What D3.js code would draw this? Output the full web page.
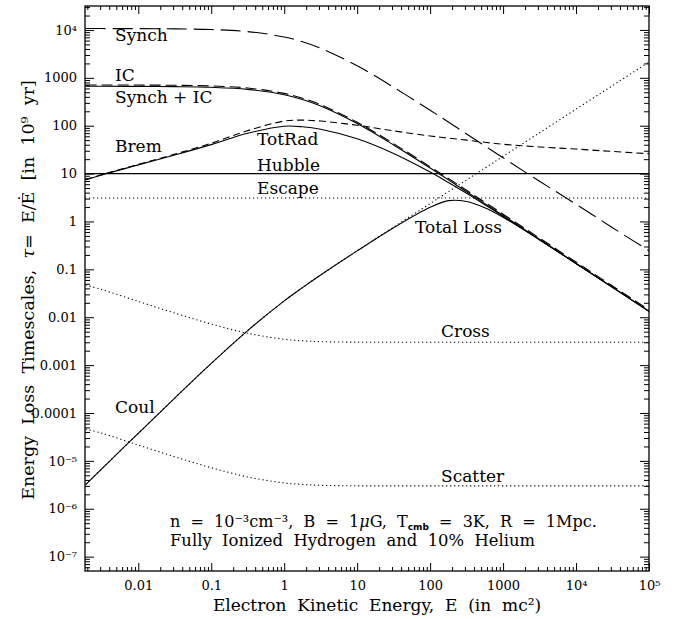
<!DOCTYPE html>
<html>
<head>
<meta charset="utf-8">
<script src="https://cdn.jsdelivr.net/npm/d3@7"></script>
<style>
  body { margin: 0; background: #fff; }
  svg text { font-family: "DejaVu Serif", serif; fill: #000; }
</style>
</head>
<body>
<script>
/* Electron kinetic energy (in mc^2) at which each curve is read */
var energy = [0.0019, 0.00316, 0.01, 0.0316, 0.1, 0.316, 1, 1.78, 3.16, 10,
              31.6, 100, 178, 316, 562, 1000, 3162, 1e4, 31623, 1e5];

/* Loss timescales, in 10^9 yr */
var synch   = [10690, 10680, 10650, 10530, 10190, 9240, 7130, 5660, 4140, 1780,
               634, 210, 119, 67.3, 37.9, 21.4, 6.9, 2.3, 0.74, 0.245];
var ic      = [709, 709, 706, 699, 676, 613, 473, 376, 275, 118,
               42.2, 13.9, 7.89, 4.47, 2.52, 1.42, 0.449, 0.142, 0.0449, 0.0142];
var synchIC = [665, 665, 662, 655, 634, 575, 444, 352, 258, 111,
               39.6, 13.05, 7.40, 4.19, 2.36, 1.33, 0.421, 0.133, 0.0421, 0.0133];
var brem    = [7.5, 9.5, 15.5, 25.5, 43, 79, 125, 131, 125, 102,
               78, 61, 55, 50, 45, 41, 36, 32.5, 29, 26];
var totRad  = [7.42, 9.37, 15.2, 24.5, 40.3, 69.5, 97.5, 95.0, 84.2, 53.2,
               26.3, 10.75, 6.52, 3.87, 2.24, 1.29, 0.416, 0.1325, 0.042, 0.0133];
var coul    = [3.2e-6, 6.83e-6, 3.77e-5, 2.05e-4, 1.086e-3, 5.27e-3, 0.0219, 0.0416, 0.0764, 0.244,
               0.762, 2.37, 4.19, 7.37, 13.0, 22.95, 71.3, 222, 689, 2140];
var total   = [3.2e-6, 6.83e-6, 3.77e-5, 2.05e-4, 1.086e-3, 5.27e-3, 0.0219, 0.0416, 0.0763, 0.243,
               0.741, 1.98, 2.72, 2.62, 1.93, 1.22, 0.414, 0.132, 0.042, 0.0133];
var cross   = [0.047, 0.0378, 0.0214, 0.0122, 0.0072, 0.00462, 0.00346, 0.00322, 0.00309, 0.00301,
               0.003, 0.003, 0.003, 0.003, 0.003, 0.003, 0.003, 0.003, 0.003, 0.003];
var scatter = [4.6e-5, 3.78e-5, 2.14e-5, 1.22e-5, 7.2e-6, 4.62e-6, 3.46e-6, 3.22e-6, 3.09e-6, 3.01e-6,
               3e-6, 3e-6, 3e-6, 3e-6, 3e-6, 3e-6, 3e-6, 3e-6, 3e-6, 3e-6];
var hubble = 10;
var escape = 3.1;

/* Axis ticks */
var xTickValues = [0.01, 0.1, 1, 10, 100, 1000, 1e4, 1e5];
var xTickLabels = ["0.01", "0.1", "1", "10", "100", "1000", "10\u2074", "10\u2075"];
var yTickValues = [1e4, 1000, 100, 10, 1, 0.1, 0.01, 0.001, 1e-4, 1e-5, 1e-6, 1e-7];
var yTickLabels = ["10\u2074", "1000", "100", "10", "1", "0.1", "0.01", "0.001", "0.0001",
                   "10\u207b\u2075", "10\u207b\u2076", "10\u207b\u2077"];

var margin = {left: 85, top: 6},
    width = 564, height = 565;

var svg = d3.select("body").append("svg")
    .attr("width", 690)
    .attr("height", 619);

var g = svg.append("g")
    .attr("transform", "translate(" + margin.left + "," + margin.top + ")");

var x = d3.scaleLog().domain([0.00186, 1e5]).range([0, width]);
var y = d3.scaleLog().domain([Math.pow(10, -7.3), Math.pow(10, 4.5)]).range([height, 0]);

/* minor ticks at 2..9 of each decade */
function minorTicks(scale) {
  var dom = scale.domain(), lo = Math.min(dom[0], dom[1]), hi = Math.max(dom[0], dom[1]);
  var t = [];
  for (var k = Math.floor(Math.log10(lo)); k <= Math.ceil(Math.log10(hi)); k++)
    for (var m = 2; m <= 9; m++) {
      var v = m * Math.pow(10, k);
      if (v >= lo && v <= hi) t.push(v);
    }
  return t;
}

function styleAxis(sel) {
  sel.select(".domain").remove();
  sel.attr("font-family", null).attr("font-size", 13);
  sel.selectAll("line").attr("stroke-width", 1);
}

var MAJ = 8, MIN = 4;

/* bottom + top */
g.append("g").attr("transform", "translate(0," + height + ")")
    .call(d3.axisBottom(x).tickValues(xTickValues)
      .tickFormat(function(d, i) { return xTickLabels[i]; })
      .tickSizeInner(-MAJ).tickSizeOuter(0).tickPadding(10))
    .call(styleAxis);
g.append("g").attr("transform", "translate(0," + height + ")")
    .call(d3.axisBottom(x).tickValues(minorTicks(x)).tickFormat("")
      .tickSizeInner(-MIN).tickSizeOuter(0))
    .call(styleAxis);
g.append("g")
    .call(d3.axisTop(x).tickValues(xTickValues).tickFormat("")
      .tickSizeInner(-MAJ).tickSizeOuter(0))
    .call(styleAxis);
g.append("g")
    .call(d3.axisTop(x).tickValues(minorTicks(x)).tickFormat("")
      .tickSizeInner(-MIN).tickSizeOuter(0))
    .call(styleAxis);

/* left + right */
g.append("g")
    .call(d3.axisLeft(y).tickValues(yTickValues)
      .tickFormat(function(d, i) { return yTickLabels[i]; })
      .tickSizeInner(-MAJ - 1).tickSizeOuter(0).tickPadding(8))
    .call(styleAxis);
g.append("g")
    .call(d3.axisLeft(y).tickValues(minorTicks(y)).tickFormat("")
      .tickSizeInner(-MIN - 1).tickSizeOuter(0))
    .call(styleAxis);
g.append("g").attr("transform", "translate(" + width + ",0)")
    .call(d3.axisRight(y).tickValues(yTickValues).tickFormat("")
      .tickSizeInner(-MAJ - 1).tickSizeOuter(0))
    .call(styleAxis);
g.append("g").attr("transform", "translate(" + width + ",0)")
    .call(d3.axisRight(y).tickValues(minorTicks(y)).tickFormat("")
      .tickSizeInner(-MIN - 1).tickSizeOuter(0))
    .call(styleAxis);

g.append("rect")
    .attr("width", width).attr("height", height)
    .attr("fill", "none").attr("stroke", "#000").attr("stroke-width", 1.3);

/* curves */
g.append("clipPath").attr("id", "clip")
  .append("rect").attr("width", width).attr("height", height);

var line = d3.line()
    .x(function(d, i) { return x(energy[i]); })
    .y(function(d) { return y(d); })
    .curve(d3.curveCatmullRom);

var DOT = "1.2,2.8";
var curves = [
  {v: coul,    dash: DOT},
  {v: cross,   dash: DOT},
  {v: scatter, dash: DOT},
  {v: synch,   dash: "20,7"},
  {v: ic,      dash: "11,5"},
  {v: brem,    dash: "7,4"},
  {v: synchIC, dash: null},
  {v: totRad,  dash: null},
  {v: total,   dash: null}
];

var plot = g.append("g").attr("clip-path", "url(#clip)");

plot.selectAll(".curve")
    .data(curves)
  .enter().append("path")
    .attr("class", "curve")
    .attr("d", function(d) { return line(d.v); })
    .attr("fill", "none")
    .attr("stroke", "#000")
    .attr("stroke-width", 1.1)
    .attr("stroke-dasharray", function(d) { return d.dash; });

plot.selectAll(".hline")
    .data([{v: hubble, dash: null}, {v: escape, dash: DOT}])
  .enter().append("line")
    .attr("class", "hline")
    .attr("x1", 0).attr("x2", width)
    .attr("y1", function(d) { return y(d.v); })
    .attr("y2", function(d) { return y(d.v); })
    .attr("stroke", "#000")
    .attr("stroke-width", 1.1)
    .attr("stroke-dasharray", function(d) { return d.dash; });

/* curve labels */
var labels = [
  ["Synch", 115, 41], ["IC", 115, 81], ["Synch + IC", 115, 103],
  ["Brem", 115, 152], ["TotRad", 257, 145], ["Hubble", 257, 171],
  ["Escape", 257, 194], ["Total Loss", 415, 233], ["Cross", 441, 337],
  ["Scatter", 441, 482], ["Coul", 115, 413]
];
svg.selectAll(".lab")
    .data(labels)
  .enter().append("text")
    .attr("class", "lab")
    .attr("x", function(d) { return d[1]; })
    .attr("y", function(d) { return d[2]; })
    .attr("font-size", 17)
    .style("white-space", "pre")
    .text(function(d) { return d[0]; });

/* parameter note */
var note1 = svg.append("text")
    .attr("x", 170).attr("y", 527)
    .attr("font-size", 16)
    .style("white-space", "pre");
note1.append("tspan").text("n  =  10\u207b\u00b3cm\u207b\u00b3,  B  =  1");
note1.append("tspan").attr("font-style", "italic").text("\u03bc");
note1.append("tspan").text("G,  T");
note1.append("tspan").attr("font-family", "DejaVu Sans").attr("font-weight", "bold")
    .attr("font-size", 9).attr("dy", 3).text("cmb");
note1.append("tspan").attr("dy", -3).text("  =  3K,  R  =  1Mpc.");

svg.append("text")
    .attr("x", 170).attr("y", 546)
    .attr("font-size", 16.4)
    .style("white-space", "pre")
    .text("Fully  Ionized  Hydrogen  and  10%  Helium");

/* axis titles */
svg.append("text")
    .attr("x", 377).attr("y", 611)
    .attr("text-anchor", "middle")
    .attr("font-size", 17)
    .style("white-space", "pre")
    .text("Electron  Kinetic  Energy,  E  (in  mc\u00b2)");

var yt = svg.append("text")
    .attr("transform", "translate(34,290) rotate(-90)")
    .attr("text-anchor", "middle")
    .attr("font-size", 17.5)
    .style("white-space", "pre");
yt.append("tspan").text("Energy  Loss  Timescales,  ");
yt.append("tspan").attr("font-style", "italic").text("\u03c4");
yt.append("tspan").text("=  E/\u0116  [in  10\u2079  yr]");
</script>
</body>
</html>
